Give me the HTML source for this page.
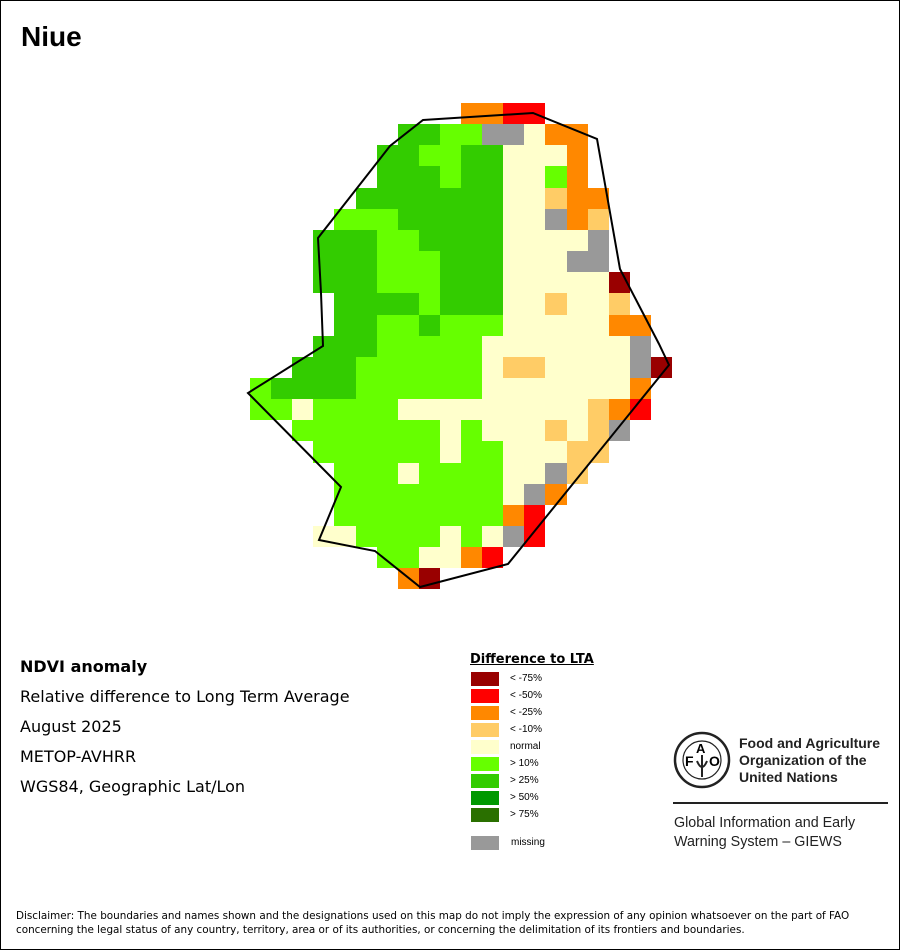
<!DOCTYPE html>
<html><head><meta charset="utf-8"><style>
body{margin:0;background:#fff;}
#page{position:relative;width:898px;height:948px;border:1px solid #000;overflow:hidden;font-family:"Liberation Sans",sans-serif;}
.t{position:absolute;white-space:nowrap;color:#000;}
.dv{font-family:"DejaVu Sans",sans-serif;}
</style></head><body>
<div id="page">
<div class="t" style="left:20px;top:20px;font-size:28px;font-weight:bold;">Niue</div>
<svg id="map" width="898" height="948" style="position:absolute;left:0;top:0"></svg>
<div class="t dv" style="left:19px;top:656px;font-size:16px;font-weight:bold;">NDVI anomaly</div>
<div class="t dv" style="left:19px;top:686px;font-size:16px;">Relative difference to Long Term Average</div>
<div class="t dv" style="left:19px;top:716px;font-size:16px;">August 2025</div>
<div class="t dv" style="left:19px;top:746px;font-size:16px;">METOP-AVHRR</div>
<div class="t dv" style="left:19px;top:776px;font-size:16px;">WGS84, Geographic Lat/Lon</div>
<div class="t dv" style="left:469px;top:651px;font-size:13px;font-weight:bold;text-decoration:underline;">Difference to LTA</div>
<div id="legend"></div>
<svg width="60" height="60" style="position:absolute;left:672px;top:730px">
<circle cx="29" cy="29" r="27" fill="none" stroke="#222" stroke-width="2.5"/>
<circle cx="29" cy="29" r="19" fill="none" stroke="#222" stroke-width="1.2"/>
<text x="12" y="35" font-size="14" font-weight="bold" font-family="Liberation Sans">F</text>
<text x="23" y="22" font-size="13" font-weight="bold" font-family="Liberation Sans">A</text>
<text x="36" y="35" font-size="14" font-weight="bold" font-family="Liberation Sans">O</text>
<path d="M29 24 L29 46 M24 30 Q29 42 34 30" stroke="#222" stroke-width="2" fill="none"/>
</svg>
<div class="t" style="left:738px;top:734px;font-size:14px;font-weight:bold;line-height:17px;color:#222;">Food and Agriculture<br>Organization of the<br>United Nations</div>
<div style="position:absolute;left:672px;top:801px;width:215px;height:2px;background:#222;"></div>
<div class="t" style="left:673px;top:813px;font-size:14.3px;line-height:19px;color:#222;">Global Information and Early<br>Warning System – GIEWS</div>
<div class="t dv" style="left:15px;top:908px;font-size:10.4px;line-height:14px;">Disclaimer: The boundaries and names shown and the designations used on this map do not imply the expression of any opinion whatsoever on the part of FAO<br>concerning the legal status of any country, territory, area or of its authorities, or concerning the delimitation of its frontiers and boundaries.</div>
</div>
<script>
const colors={D:'#990000',R:'#ff0000',O:'#ff8800',Y:'#ffcc66',N:'#ffffcc',L:'#66ff00',G:'#33cc00',H:'#009900',K:'#2a7000',M:'#999999'};
const gridRows=[
"..........OORR......",
".......GGLLMMNOO....",
"......GGLLGGNNNO....",
"......GGGLGGNNLO....",
".....GGGGGGGNNYOO...",
"....LLLGGGGGNNMOY...",
"...GGGLLGGGGNNNNM...",
"...GGGLLLGGGNNNMM...",
"...GGGLLLGGGNNNNND..",
"....GGGGLGGGNNYNNY..",
"....GGLLGLLLNNNNNOO.",
"...GGGLLLLLNNNNNNNM.",
"..GGGLLLLLLNYYNNNNMD",
"LGGGGLLLLLLNNNNNNNO.",
"LLNLLLLNNNNNNNNNYOR.",
"..LLLLLLLNLNNNYNYM..",
"...LLLLLLNLLNNNYY...",
"....LLLNLLLLNNMY....",
"....LLLLLLLLNMO.....",
"....LLLLLLLLOR......",
"...NNLLLLNLNMR......",
"......LLNNOR........",
".......OD..........."
];
const outlineX=[422,532,596,619,658,668,507,419,374,318,340,247,322,320,317,389];
const outlineY=[119,112,138,268,343,364,563,586,550,539,486,392,345,292,237,145];
const legendLabels=['< -75%','< -50%','< -25%','< -10%','normal','> 10%','> 25%','> 50%','> 75%','missing'];
const legendKeys=['D','R','O','Y','N','L','G','H','K','M'];
const NS='http://www.w3.org/2000/svg';
const svg=document.getElementById('map');
const x0=249,y0=102,cw=21.1,ch=21.15;
const xs=c=>x0+c*cw, ys=r=>y0+r*ch;
gridRows.forEach((row,r)=>{[...row].forEach((k,c)=>{
  if(k==='.')return;
  const e=document.createElementNS(NS,'rect');
  
  
  e.setAttribute('x',Math.round(xs(c)));e.setAttribute('y',Math.round(ys(r)));
  e.setAttribute('width',Math.round(xs(c+1))-Math.round(xs(c)));
  e.setAttribute('height',Math.round(ys(r+1))-Math.round(ys(r)));
  e.setAttribute('fill',colors[k]);svg.appendChild(e);
});});
const pg=document.createElementNS(NS,'polygon');


pg.setAttribute('points',outlineX.map((x,i)=>x+','+outlineY[i]).join(' '));
pg.setAttribute('fill','none');pg.setAttribute('stroke','#000');pg.setAttribute('stroke-width','2');
svg.appendChild(pg);
const lg=document.getElementById('legend');
legendLabels.forEach((lab,i)=>{
  const y=(i<9)?671+i*17:835;
  const s=document.createElement('div');
  
  
  s.style.cssText=`position:absolute;left:470px;top:${y}px;width:28px;height:14px;background:${colors[legendKeys[i]]}`;
  lg.appendChild(s);
  const t=document.createElement('div');
  
  
  t.className='t';
  t.style.cssText=`left:${i<9?509:510}px;top:${y+1}px;font-size:10px;`;
  t.textContent=lab;lg.appendChild(t);
});
</script>
</body></html>
